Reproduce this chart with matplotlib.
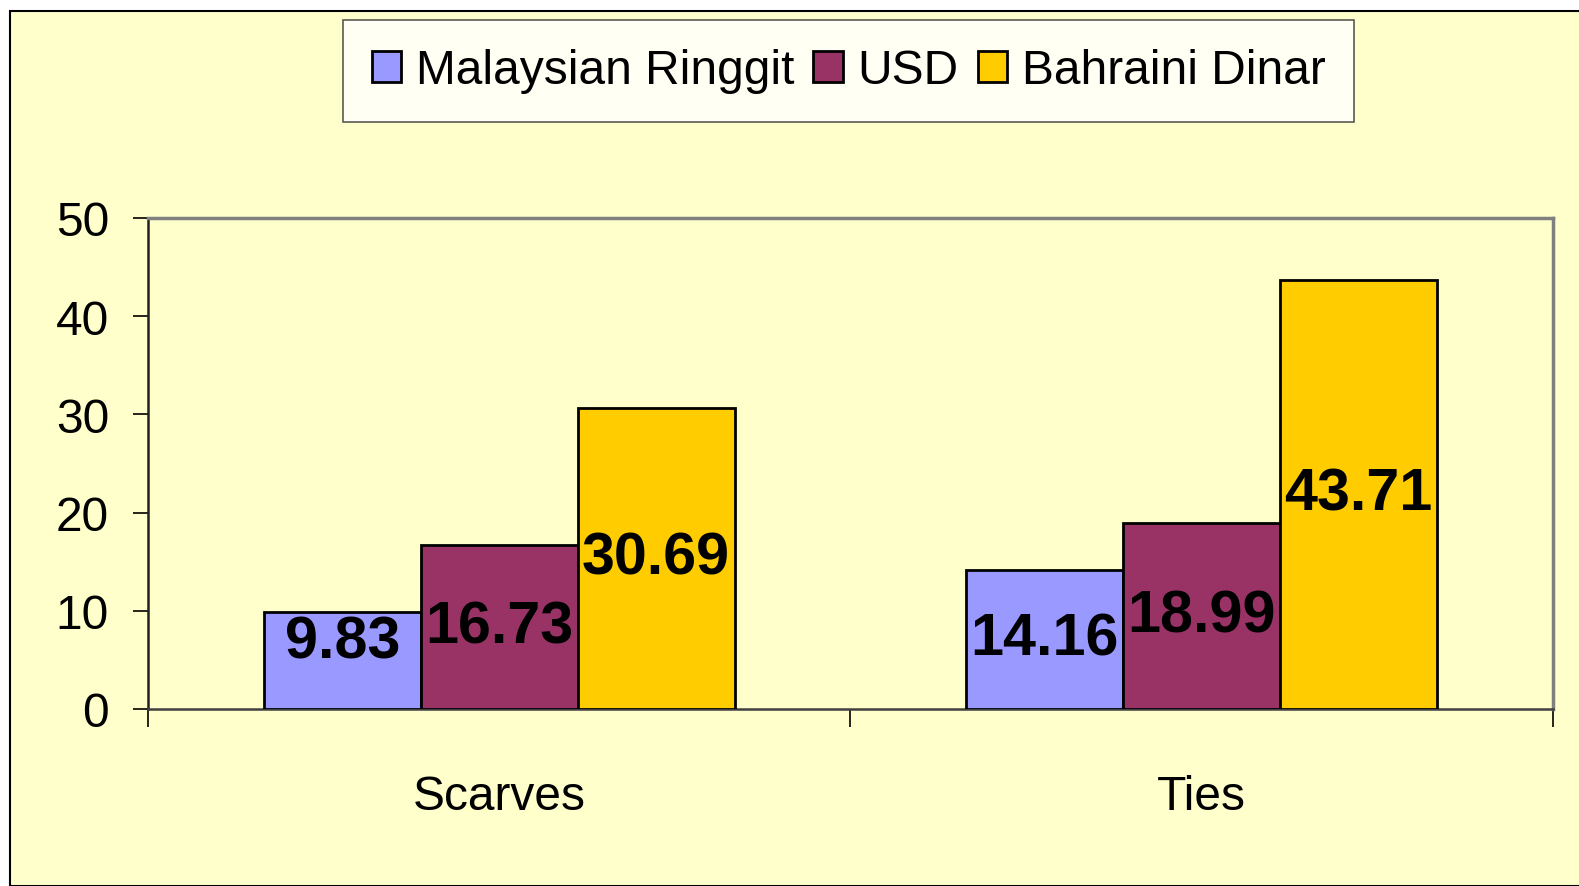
import matplotlib
matplotlib.use("Agg")
import matplotlib.pyplot as plt
import numpy as np
from matplotlib import font_manager as fm
from matplotlib.patches import Rectangle


categories = ["Scarves", "Ties"]
series_names = ["Malaysian Ringgit", "USD", "Bahraini Dinar"]
ringgit = [9.83, 14.16]
usd = [16.73, 18.99]
dinar = [30.69, 43.71]
yticks = [0, 10, 20, 30, 40, 50]

colors = ["#9999FF", "#993366", "#FFCC00"]
BG = "#FFFFCC"

# the original text is condensed, a narrow face gets closest
try:
    fm.findfont("Liberation Sans Narrow", fallback_to_default=False)
    FAMILY, SCALE = "Liberation Sans Narrow", 1.0
except ValueError:
    FAMILY, SCALE = "Liberation Sans", 0.82
plt.rcParams["font.family"] = [FAMILY, "DejaVu Sans"]

W, H = 1579, 887
fig = plt.figure(figsize=(W / 100, H / 100), dpi=100, facecolor="white")

# chart area frame
fig.patches.append(Rectangle((10 / W, 0), 1.1, 1 - 12 / H, transform=fig.transFigure,
                             facecolor=BG, edgecolor="black", lw=1.5, zorder=-10))

ax = fig.add_axes([148 / W, 1 - 710 / H, (1553 - 148) / W, (710 - 219) / H])
ax.set_facecolor(BG)

x = np.arange(len(categories))
bw = 0.67 / 3
all_series = [ringgit, usd, dinar]
for i, (vals, name, c) in enumerate(zip(all_series, series_names, colors)):
    xs = x + (i - 1) * bw
    ax.bar(xs, vals, width=bw, color=c, edgecolor="black", lw=2, label=name, zorder=3)
    for xx, v in zip(xs, vals):
        ax.text(xx, max(v / 2, 6.8), f"{v:.2f}", ha="center", va="center",
                fontsize=52 * SCALE, fontweight="bold", zorder=4)

ax.set_xlim(-0.5, len(categories) - 0.5)
ax.set_ylim(0, 50)
ax.set_yticks(yticks)
ax.set_yticklabels([str(t) for t in yticks])
ax.set_xticks(x)
ax.set_xticklabels(categories)
ax.set_xticks(np.arange(-0.5, len(categories)), minor=True)

ax.tick_params(axis="y", length=11, width=1.2, pad=17, labelsize=42 * SCALE, direction="out")
ax.tick_params(axis="x", which="major", length=0, pad=47, labelsize=42 * SCALE)
ax.tick_params(axis="x", which="minor", length=13, width=1.2, direction="out")

for side in ["top", "right"]:
    ax.spines[side].set_color("#808080")
    ax.spines[side].set_linewidth(2.5)
ax.spines["left"].set_color("#202020")
ax.spines["left"].set_linewidth(1.8)
ax.spines["bottom"].set_color("#404040")
ax.spines["bottom"].set_linewidth(1.8)

leg = fig.legend(loc="center", bbox_to_anchor=((343 + 1354) / 2 / W, 1 - 72 / H),
                 ncol=3, fontsize=42 * SCALE, frameon=True, fancybox=False,
                 handlelength=0.62, handleheight=0.62, handletextpad=0.3,
                 columnspacing=0.4, borderpad=0.6, borderaxespad=0)
leg.get_frame().set_edgecolor("#303030")
leg.get_frame().set_linewidth(1.2)
leg.get_frame().set_facecolor("white")
for h in leg.legend_handles:
    h.set_linewidth(2)

fig.savefig("out.png", dpi=100, facecolor=fig.get_facecolor())
